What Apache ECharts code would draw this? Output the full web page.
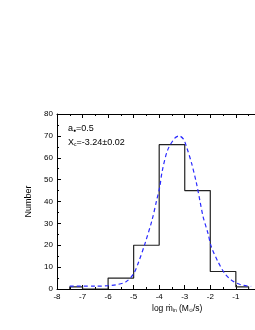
<!DOCTYPE html>
<html>
<head>
<meta charset="utf-8">
<script src="https://cdn.jsdelivr.net/npm/echarts@6/dist/echarts.min.js"></script>
<style>
html,body{margin:0;padding:0;background:#fff;}
#c{width:255px;height:330px;}
</style>
</head>
<body>
<div id="c"></div>
<script>
// Histogram bin edges and counts
const binEdges = [-7.5, -7, -6, -5, -4, -3, -2, -1, -0.5];
const binCounts = [1, 0, 5, 20, 66, 45, 8, 1];
// Fitted curve points (x, count)
const fitX = [-7.5, -6.5, -6.0, -5.7, -5.3, -5.0, -4.8, -4.55, -4.28, -4.1, -3.98, -3.88, -3.67, -3.4, -3.22, -3.05, -2.93, -2.73, -2.54, -2.41, -2.28, -2.09, -1.96, -1.7, -1.44, -1.18, -0.8, -0.4];
const fitY = [1.3, 1.3, 1.5, 1.9, 3.3, 7.0, 12.5, 21, 31.5, 40.5, 46.5, 54, 63.5, 68.8, 70, 68.5, 65, 57.4, 48.3, 40.6, 33, 25.4, 19.3, 12.5, 7.2, 4.1, 1.9, 1.2];
const xTicks = [-8, -7, -6, -5, -4, -3, -2, -1];
const yTicks = [0, 10, 20, 30, 40, 50, 60, 70, 80];

const stepData = [];
for (let i = 0; i < binCounts.length; i++) {
  const prev = i === 0 ? 0 : binCounts[i - 1];
  stepData.push([binEdges[i], prev]);
  stepData.push([binEdges[i], binCounts[i]]);
}
stepData.push([binEdges[binEdges.length - 1], binCounts[binCounts.length - 1]]);
stepData.push([binEdges[binEdges.length - 1], 0]);

const fitData = fitX.map((x, i) => [x, fitY[i]]);

const FONT = 'Liberation Sans, Arial, sans-serif';
const chart = echarts.init(document.getElementById('c'), null, {renderer: 'canvas'});
const axisCommon = {
  axisLine: {show: true, onZero: false, lineStyle: {color: '#000', width: 1}},
  axisTick: {show: true, inside: true, length: 4, lineStyle: {color: '#000', width: 1}},
  minorTick: {show: true, splitNumber: 2, length: 2, lineStyle: {color: '#000', width: 1}},
  splitLine: {show: false}
};
const subStyle = {fontSize: 5, fontFamily: FONT, fill: '#000', verticalAlign: 'bottom', padding: [4, 0, 0, 0]};
chart.setOption({
  backgroundColor: '#fff',
  animation: false,
  grid: {left: 57, top: 114, width: 200, height: 175},
  xAxis: [
    Object.assign({
      type: 'value', position: 'bottom', min: -8, max: -0.25, interval: 1,
      axisLabel: {
        color: '#000', fontSize: 8, fontFamily: FONT, margin: 4,
        showMaxLabel: false,
        formatter: v => (xTicks.indexOf(v) >= 0 ? String(v) : '')
      }
    }, axisCommon),
    Object.assign({
      type: 'value', position: 'top', min: -8, max: -0.25, interval: 1,
      axisLabel: {show: false}
    }, axisCommon)
  ],
  yAxis: Object.assign({
    type: 'value', min: 0, max: 80, interval: 10,
    name: 'Number', nameLocation: 'middle', nameGap: 18,
    nameTextStyle: {color: '#000', fontSize: 9, fontFamily: FONT},
    axisLabel: {
      color: '#000', fontSize: 8, fontFamily: FONT, margin: 4,
      formatter: v => (yTicks.indexOf(v) >= 0 ? String(v) : '')
    }
  }, axisCommon),
  graphic: [
    {
      type: 'text', left: 152, top: 304,
      style: {
        text: 'log {m|ṁ}{sub|in} (M{sub|⊙}/s)',
        font: '8.5px ' + FONT, fill: '#000',
        rich: {
          m: {fontSize: 8.5, fontFamily: FONT, fill: '#000'},
          sub: subStyle
        }
      }
    },
    {
      type: 'text', left: 68, top: 124,
      style: {
        text: 'a{dot|●}=0.5',
        font: '9px ' + FONT, fill: '#000',
        rich: {dot: {fontSize: 5, fontFamily: FONT, fill: '#000', verticalAlign: 'bottom', padding: [4, 0, 0, 0]}}
      }
    },
    {
      type: 'text', left: 68, top: 138,
      style: {
        text: 'X{sub|c}=-3.24±0.02',
        font: '9px ' + FONT, fill: '#000',
        rich: {sub: subStyle}
      }
    }
  ],
  series: [
    {
      type: 'line', data: stepData, symbol: 'none', clip: true,
      lineStyle: {color: '#222', width: 1.2}, z: 3
    },
    {
      type: 'line', data: fitData, symbol: 'none', smooth: 0.3, clip: true,
      lineStyle: {color: '#2a2aff', width: 1.2, type: [4, 3]}, z: 4
    }
  ]
});
</script>
</body>
</html>
